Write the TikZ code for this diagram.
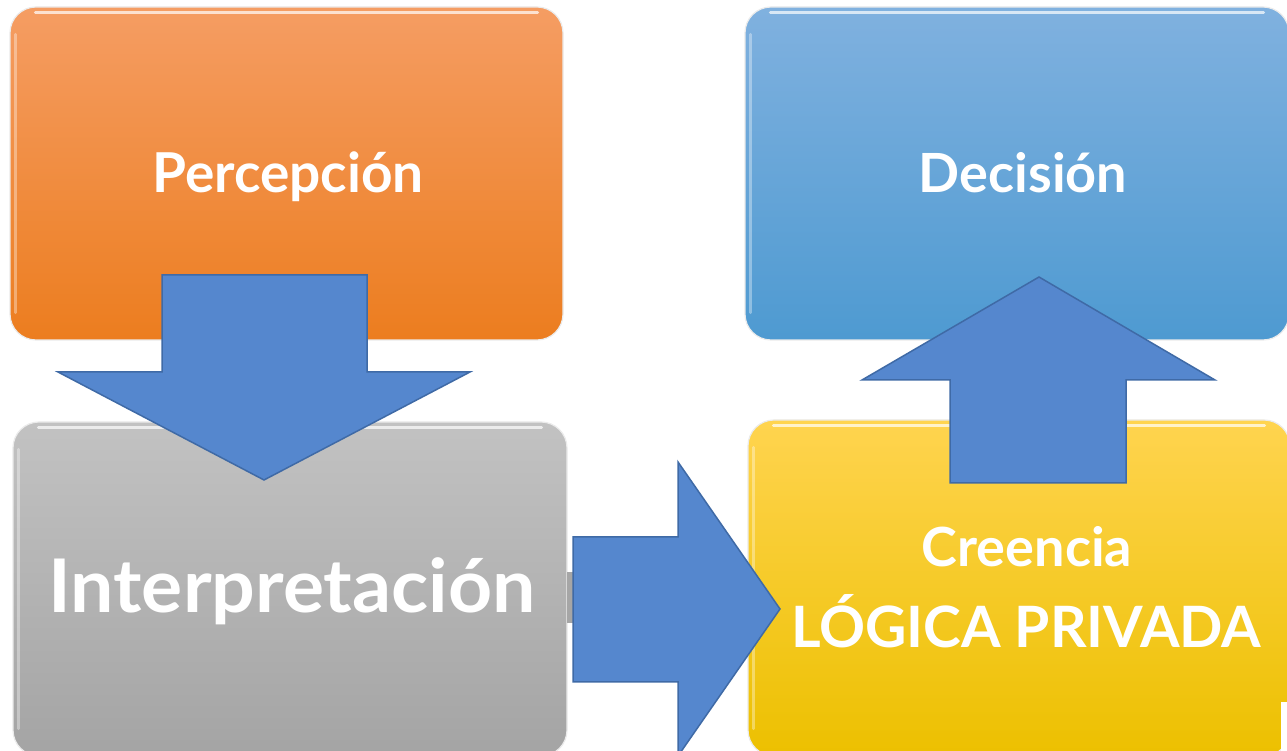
\documentclass[tikz,border=0pt]{standalone}
\usepackage{fontspec}
\setmainfont{Lato}
\definecolor{orangeTop}{HTML}{F59D63}
\definecolor{orangeBot}{HTML}{EC7D1F}
\definecolor{blueTop}{HTML}{80B1DF}
\definecolor{blueBot}{HTML}{4E9AD1}
\definecolor{grayTop}{HTML}{C2C2C2}
\definecolor{grayBot}{HTML}{A4A4A4}
\definecolor{yelTop}{HTML}{FFD44F}
\definecolor{yelBot}{HTML}{ECC000}
\definecolor{arrowblue}{HTML}{5587CE}
\definecolor{arrowedge}{HTML}{3F6AA6}
\begin{document}
\begin{tikzpicture}[x=1pt,y=1pt,
  box/.style={rectangle, rounded corners=26pt, draw=white!92!black, line width=1.2pt, inner sep=0pt},
  gloss/.style={white, opacity=0.7, line width=3pt, line cap=round},
  blockarrow/.style={fill=arrowblue, draw=arrowedge, line width=1.5pt, line join=miter},
  lbl/.style={text=white, font=\bfseries, anchor=base, inner sep=0pt}]
\useasboundingbox (0,0) rectangle (1287,751);
\fill[white] (0,0) rectangle (1287,751);
\clip (0,0) rectangle (1287,751);

% boxes
\node[box, top color=orangeTop, bottom color=orangeBot, minimum width=553pt, minimum height=333pt] (perc) at (286.5,577.5) {};
\node[box, top color=blueTop, bottom color=blueBot, minimum width=544pt, minimum height=333pt] (deci) at (1017,577.5) {};
\node[box, top color=grayTop, bottom color=grayBot, minimum width=554pt, minimum height=334pt] (inter) at (290,162) {};
\node[box, top color=yelTop, bottom color=yelBot, minimum width=542pt, minimum height=336pt] (cree) at (1019,163) {};

% glossy highlights
\foreach \b in {perc,deci,inter,cree}{
  \draw[gloss] ([xshift=26pt,yshift=-6pt]\b.north west) -- ([xshift=-26pt,yshift=-6pt]\b.north east);
  \draw[gloss, opacity=0.35] ([xshift=6pt,yshift=-28pt]\b.north west) -- ([xshift=6pt,yshift=28pt]\b.south west);
}

% small artefacts
\fill[gray!70] (567,128) rectangle (573,179);
\fill[white] (1281,0) rectangle (1287,49);

% labels
\node[lbl, font=\bfseries\fontsize{55}{58}\selectfont] (tperc) at (288,558) {Percepción};
\node[lbl, font=\bfseries\fontsize{54}{58}\selectfont] (tdeci) at (1023,558) {Decisión};
\node[lbl, font=\bfseries\fontsize{74}{78}\selectfont, xscale=1.04] (tinter) at (292,138) {Interpretación};
\node[lbl, font=\bfseries\fontsize{54}{58}\selectfont] (tcree) at (1027,184) {Creencia};
\node[lbl, font=\bfseries\fontsize{57}{60}\selectfont] (tlog) at (1026,103) {LÓGICA PRIVADA};

% block arrows
\draw[blockarrow] (162,476) -- (367,476) -- (367,379) -- (470,379) -- (264,271) -- (58,379) -- (162,379) -- cycle;
\draw[blockarrow] (573,214) -- (678,214) -- (678,289) -- (780,142) -- (678,-5) -- (678,69) -- (573,69) -- cycle;
\draw[blockarrow] (950,268) -- (1126,268) -- (1126,371) -- (1215,371) -- (1039,474) -- (862,371) -- (950,371) -- cycle;
\end{tikzpicture}
\end{document}
